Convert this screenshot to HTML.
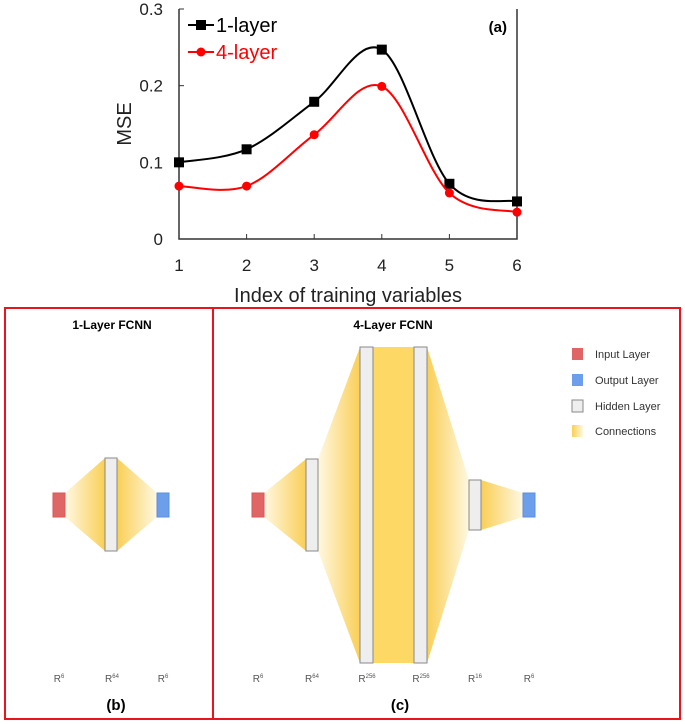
<!DOCTYPE html>
<html><head><meta charset="utf-8"><style>
body{margin:0;background:#fff;width:685px;height:724px;overflow:hidden;font-family:"Liberation Sans",sans-serif}
svg{display:block}
</style></head><body>
<svg width="685" height="724" viewBox="0 0 685 724" xmlns="http://www.w3.org/2000/svg">
<defs>
<linearGradient id="gL" x1="0" x2="1" y1="0" y2="0"><stop offset="0" stop-color="#fff8e2"/><stop offset="1" stop-color="#f9cf55"/></linearGradient>
<linearGradient id="gR" x1="0" x2="1" y1="0" y2="0"><stop offset="0" stop-color="#f9cf55"/><stop offset="1" stop-color="#fff8e2"/></linearGradient>
</defs>
<g id="chart"></g>
<g>
<rect x="5" y="308" width="675" height="411" fill="none" stroke="#e8141e" stroke-width="2"/>
<line x1="213" y1="308" x2="213" y2="719" stroke="#e8141e" stroke-width="2"/>
<text x="112" y="329" font-size="12" font-weight="bold" text-anchor="middle">1-Layer FCNN</text>
<text x="393" y="329" font-size="12" font-weight="bold" text-anchor="middle">4-Layer FCNN</text>
<!-- panel b -->
<polygon points="65,493 105,458 105,551 65,517" fill="url(#gL)"/>
<polygon points="117,458 157,493 157,517 117,551" fill="url(#gR)"/>
<rect x="53" y="493" width="12" height="24" fill="#e06666" stroke="#d55"/>
<rect x="105" y="458" width="12" height="93" fill="#eee" stroke="#888"/>
<rect x="157" y="493" width="12" height="24" fill="#6d9eeb" stroke="#5a8de0"/>
<!-- panel c -->
<polygon points="264,493 306,459 306,551 264,517" fill="url(#gL)"/>
<polygon points="318,459 360,347 360,663 318,551" fill="url(#gL)"/>
<rect x="373" y="347" width="41" height="316" fill="#fdd865"/>
<polygon points="427,347 469,480 469,530 427,663" fill="url(#gR)"/>
<polygon points="481,480 523,493 523,517 481,530" fill="url(#gR)"/>
<rect x="252" y="493" width="12" height="24" fill="#e06666" stroke="#d55"/>
<rect x="306" y="459" width="12" height="92" fill="#eee" stroke="#888"/>
<rect x="360" y="347" width="13" height="316" fill="#eee" stroke="#888"/>
<rect x="414" y="347" width="13" height="316" fill="#eee" stroke="#888"/>
<rect x="469" y="480" width="12" height="50" fill="#eee" stroke="#888"/>
<rect x="523" y="493" width="12" height="24" fill="#6d9eeb" stroke="#5a8de0"/>
<g font-size="10" fill="#555" text-anchor="middle">
<text x="59" y="682">R<tspan font-size="6" dy="-4">6</tspan></text>
<text x="112" y="682">R<tspan font-size="6" dy="-4">64</tspan></text>
<text x="163" y="682">R<tspan font-size="6" dy="-4">6</tspan></text>
<text x="258" y="682">R<tspan font-size="6" dy="-4">6</tspan></text>
<text x="312" y="682">R<tspan font-size="6" dy="-4">64</tspan></text>
<text x="367" y="682">R<tspan font-size="6" dy="-4">256</tspan></text>
<text x="421" y="682">R<tspan font-size="6" dy="-4">256</tspan></text>
<text x="475" y="682">R<tspan font-size="6" dy="-4">16</tspan></text>
<text x="529" y="682">R<tspan font-size="6" dy="-4">6</tspan></text>
</g>
<text x="116" y="710" font-size="15" font-weight="bold" text-anchor="middle">(b)</text>
<text x="400" y="710" font-size="15" font-weight="bold" text-anchor="middle">(c)</text>
<g font-size="11" fill="#333">
<rect x="572" y="348" width="11" height="12" fill="#e06666"/><text x="595" y="358">Input Layer</text>
<rect x="572" y="374" width="11" height="12" fill="#6d9eeb"/><text x="595" y="384">Output Layer</text>
<rect x="572" y="400" width="11" height="12" fill="#eee" stroke="#888"/><text x="595" y="410">Hidden Layer</text>
<rect x="572" y="425" width="11" height="12" fill="url(#gR)"/><text x="595" y="435">Connections</text>
</g>
</g>
</svg>
<script>
const categories=[1,2,3,4,5,6];
const oneLayer=[0.100,0.117,0.179,0.247,0.072,0.049];
const fourLayer=[0.069,0.069,0.136,0.199,0.060,0.035];
const yTicks=[0,0.1,0.2,0.3];
const yTickLabels=["0","0.1","0.2","0.3"];
const NS="http://www.w3.org/2000/svg";
const g=document.getElementById('chart');
const X=v=>179+(v-1)*(517-179)/5;
const Y=v=>239-v*(230/0.3);
function mk(t,a,p){const e=document.createElementNS(NS,t);for(const k in a)e.setAttribute(k,a[k]);(p||g).appendChild(e);return e;}
let f=mk('path',{d:`M179,9 V239 H517 V9`,fill:'none',stroke:'#333','stroke-width':1.5});


yTicks.forEach((t,i)=>{
 mk('line',{x1:179,x2:184,y1:Y(t),y2:Y(t),stroke:'#333'});
 const tx=mk('text',{x:163,y:Y(t)+6,'font-size':17,'text-anchor':'end',fill:'#222'});tx.textContent=yTickLabels[i];
 
 
});
categories.forEach(c=>{
 mk('line',{x1:X(c),x2:X(c),y1:239,y2:234,stroke:'#333'});
 const tx=mk('text',{x:X(c),y:271,'font-size':17,'text-anchor':'middle',fill:'#222'});tx.textContent=c;
 
 
});
let xt=mk('text',{x:348,y:302,'font-size':20,'text-anchor':'middle',fill:'#222'});xt.textContent='Index of training variables';


let yt=mk('text',{x:0,y:0,'font-size':20,'text-anchor':'middle',fill:'#222',transform:'translate(131,124) rotate(-90)'});yt.textContent='MSE';


function spline(vals){
 const p=vals.map((v,i)=>[X(categories[i]),Y(v)]);let d=`M${p[0][0]},${p[0][1]}`;
 for(let i=0;i<p.length-1;i++){const p0=p[i-1]||p[i],p1=p[i],p2=p[i+1],p3=p[i+2]||p2;
  d+=` C${p1[0]+(p2[0]-p0[0])/6},${p1[1]+(p2[1]-p0[1])/6} ${p2[0]-(p3[0]-p1[0])/6},${p2[1]-(p3[1]-p1[1])/6} ${p2[0]},${p2[1]}`;}
 return d;}
[[oneLayer,'#000','square','series-1-layer'],[fourLayer,'#f00','circle','series-4-layer']].forEach(([vals,col,shape,name])=>{
 const l=mk('path',{d:spline(vals),fill:'none',stroke:col,'stroke-width':2});
 
 
 vals.forEach((v,i)=>{const x=X(categories[i]),y=Y(v);
  const m=shape==='square'?mk('rect',{x:x-5,y:y-5,width:10,height:10,fill:col}):mk('circle',{cx:x,cy:y,r:4.5,fill:col});
  
  });
});
const lg=mk('g',{});


mk('line',{x1:188,x2:214,y1:25,y2:25,stroke:'#000','stroke-width':2},lg);mk('rect',{x:196,y:20,width:10,height:10,fill:'#000'},lg);
let t1=mk('text',{x:216,y:32,'font-size':20,fill:'#000'},lg);t1.textContent='1-layer';
mk('line',{x1:188,x2:214,y1:52,y2:52,stroke:'#f00','stroke-width':2},lg);mk('circle',{cx:201,cy:52,r:4.5,fill:'#f00'},lg);
let t2=mk('text',{x:216,y:59,'font-size':20,fill:'#f00'},lg);t2.textContent='4-layer';
let pa=mk('text',{x:507,y:32,'font-size':15,'font-weight':'bold','text-anchor':'end',fill:'#000'});pa.textContent='(a)';


</script>
</body></html>
